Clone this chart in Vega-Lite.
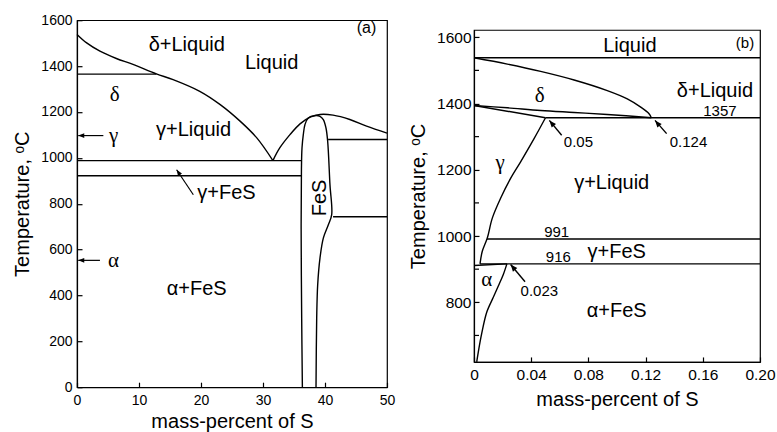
{
  "$schema": "https://vega.github.io/schema/vega-lite/v6.json",
  "padding": {"left": 12, "top": 12, "right": 0, "bottom": 0},
  "background": "white",
  "spacing": 11,
  "center": true,
  "config": {
    "font": "Liberation Sans",
    "view": {"stroke": "black", "strokeWidth": 1.2},
    "axis": {
      "grid": false,
      "domainColor": "black",
      "domainWidth": 1.2,
      "tickColor": "black",
      "tickWidth": 1.2,
      "tickSize": -5,
      "labelColor": "black",
      "titleColor": "black",
      "titleFontWeight": "normal",
      "titleFontSize": 20,
      "labelFlush": false,
      "labelOverlap": false
    }
  },
  "datasets": {
    "a_lines": [
      {"c": "liq1", "i": 0, "x": 0, "y": 1538},
      {"c": "liq1", "i": 1, "x": 1.56, "y": 1501},
      {"c": "liq1", "i": 2, "x": 3.7, "y": 1465},
      {"c": "liq1", "i": 3, "x": 6.35, "y": 1433},
      {"c": "liq1", "i": 4, "x": 9.03, "y": 1407},
      {"c": "liq1", "i": 5, "x": 12.8, "y": 1366},
      {"c": "liq1", "i": 6, "x": 15.5, "y": 1341},
      {"c": "liq1", "i": 7, "x": 19.8, "y": 1290},
      {"c": "liq1", "i": 8, "x": 23.1, "y": 1232},
      {"c": "liq1", "i": 9, "x": 26.3, "y": 1160},
      {"c": "liq1", "i": 10, "x": 29.0, "y": 1087},
      {"c": "liq1", "i": 11, "x": 31.6, "y": 988},
      {"c": "liq2", "i": 0, "x": 31.6, "y": 988},
      {"c": "liq2", "i": 1, "x": 32.7, "y": 1043},
      {"c": "liq2", "i": 2, "x": 34.35, "y": 1101},
      {"c": "liq2", "i": 3, "x": 35.97, "y": 1148},
      {"c": "liq2", "i": 4, "x": 37.6, "y": 1177},
      {"c": "liq2", "i": 5, "x": 39.2, "y": 1189},
      {"c": "liq2", "i": 6, "x": 41.3, "y": 1186},
      {"c": "liq2", "i": 7, "x": 44.0, "y": 1167},
      {"c": "liq2", "i": 8, "x": 46.7, "y": 1138},
      {"c": "liq2", "i": 9, "x": 50, "y": 1108},
      {"c": "h1365", "i": 0, "x": 0, "y": 1365},
      {"c": "h1365", "i": 1, "x": 12.8, "y": 1365},
      {"c": "h988", "i": 0, "x": 0, "y": 988},
      {"c": "h988", "i": 1, "x": 36.2, "y": 988},
      {"c": "h922", "i": 0, "x": 0, "y": 922},
      {"c": "h922", "i": 1, "x": 36.2, "y": 922},
      {"c": "h1080", "i": 0, "x": 40.5, "y": 1080},
      {"c": "h1080", "i": 1, "x": 50, "y": 1080},
      {"c": "h743", "i": 0, "x": 41.3, "y": 743},
      {"c": "h743", "i": 1, "x": 50, "y": 743},
      {"c": "fes", "i": 0, "x": 36.35, "y": 0},
      {"c": "fes", "i": 1, "x": 36.24, "y": 300},
      {"c": "fes", "i": 2, "x": 36.15, "y": 700},
      {"c": "fes", "i": 3, "x": 36.2, "y": 950},
      {"c": "fes", "i": 4, "x": 36.29, "y": 1043},
      {"c": "fes", "i": 5, "x": 36.5, "y": 1101},
      {"c": "fes", "i": 6, "x": 36.77, "y": 1145},
      {"c": "fes", "i": 7, "x": 37.3, "y": 1174},
      {"c": "fes", "i": 8, "x": 38.39, "y": 1184},
      {"c": "fes", "i": 9, "x": 39.19, "y": 1181},
      {"c": "fes", "i": 10, "x": 39.73, "y": 1167},
      {"c": "fes", "i": 11, "x": 40.16, "y": 1130},
      {"c": "fes", "i": 12, "x": 40.43, "y": 1072},
      {"c": "fes", "i": 13, "x": 40.8, "y": 883},
      {"c": "fes", "i": 14, "x": 41.08, "y": 752},
      {"c": "fes", "i": 15, "x": 40.54, "y": 708},
      {"c": "fes", "i": 16, "x": 39.73, "y": 650},
      {"c": "fes", "i": 17, "x": 39.19, "y": 563},
      {"c": "fes", "i": 18, "x": 38.82, "y": 447},
      {"c": "fes", "i": 19, "x": 38.66, "y": 301},
      {"c": "fes", "i": 20, "x": 38.55, "y": 0}
    ],
    "a_text": [
      {"t": "δ+Liquid", "x": 17.7, "y": 1490},
      {"t": "Liquid", "x": 31.4, "y": 1414},
      {"t": "γ+Liquid", "x": 18.8, "y": 1123},
      {"t": "γ+FeS", "x": 24.1, "y": 846},
      {"t": "α+FeS", "x": 19.3, "y": 429}
    ],
    "a_greek": [
      {"t": "δ", "x": 6.1, "y": 1276},
      {"t": "γ", "x": 5.9, "y": 1094},
      {"t": "α", "x": 5.9, "y": 550}
    ],
    "a_tag": [{"t": "(a)", "x": 46.7, "y": 1567}],
    "a_fes": [{"t": "FeS", "x": 39.2, "y": 825}],
    "a_arrows_h": [
      {"x": 0.2, "y": 1097, "x2": 4.25, "y2": 1097},
      {"x": 0.2, "y": 553, "x2": 3.7, "y2": 553}
    ],
    "a_arrows_d": [
      {"x": 16.07, "y": 948, "x2": 18.76, "y2": 839}
    ],
    "b_lines": [
      {"c": "liqtop", "i": 0, "x": 0, "y": 1538},
      {"c": "liqtop", "i": 1, "x": 0.2, "y": 1538},
      {"c": "liquidus", "i": 0, "x": 0, "y": 1538},
      {"c": "liquidus", "i": 1, "x": 0.0233, "y": 1519},
      {"c": "liquidus", "i": 2, "x": 0.0466, "y": 1497},
      {"c": "liquidus", "i": 3, "x": 0.07, "y": 1471},
      {"c": "liquidus", "i": 4, "x": 0.0932, "y": 1439},
      {"c": "liquidus", "i": 5, "x": 0.1072, "y": 1414},
      {"c": "liquidus", "i": 6, "x": 0.1166, "y": 1389},
      {"c": "liquidus", "i": 7, "x": 0.1224, "y": 1369},
      {"c": "liquidus", "i": 8, "x": 0.124, "y": 1357},
      {"c": "dsol", "i": 0, "x": 0, "y": 1394},
      {"c": "dsol", "i": 1, "x": 0.0233, "y": 1387},
      {"c": "dsol", "i": 2, "x": 0.0466, "y": 1379},
      {"c": "dsol", "i": 3, "x": 0.07, "y": 1373},
      {"c": "dsol", "i": 4, "x": 0.0932, "y": 1367},
      {"c": "dsol", "i": 5, "x": 0.124, "y": 1357},
      {"c": "dlow", "i": 0, "x": 0, "y": 1394},
      {"c": "dlow", "i": 1, "x": 0.05, "y": 1357},
      {"c": "h1357", "i": 0, "x": 0.05, "y": 1357},
      {"c": "h1357", "i": 1, "x": 0.2, "y": 1357},
      {"c": "gamma", "i": 0, "x": 0.05, "y": 1357},
      {"c": "gamma", "i": 1, "x": 0.042, "y": 1294},
      {"c": "gamma", "i": 2, "x": 0.0326, "y": 1224},
      {"c": "gamma", "i": 3, "x": 0.0256, "y": 1174},
      {"c": "gamma", "i": 4, "x": 0.0186, "y": 1114},
      {"c": "gamma", "i": 5, "x": 0.0128, "y": 1054},
      {"c": "gamma", "i": 6, "x": 0.0093, "y": 994},
      {"c": "gamma", "i": 7, "x": 0.0058, "y": 954},
      {"c": "gamma", "i": 8, "x": 0.0042, "y": 916},
      {"c": "h991", "i": 0, "x": 0.0091, "y": 991},
      {"c": "h991", "i": 1, "x": 0.2, "y": 991},
      {"c": "h916", "i": 0, "x": 0.0042, "y": 916},
      {"c": "h916", "i": 1, "x": 0.2, "y": 916},
      {"c": "atop", "i": 0, "x": 0, "y": 911},
      {"c": "atop", "i": 1, "x": 0.023, "y": 916},
      {"c": "asolvus", "i": 0, "x": 0.023, "y": 916},
      {"c": "asolvus", "i": 1, "x": 0.0205, "y": 884},
      {"c": "asolvus", "i": 2, "x": 0.017, "y": 849},
      {"c": "asolvus", "i": 3, "x": 0.0135, "y": 815},
      {"c": "asolvus", "i": 4, "x": 0.0089, "y": 770},
      {"c": "asolvus", "i": 5, "x": 0.0054, "y": 706},
      {"c": "asolvus", "i": 6, "x": 0.003, "y": 650},
      {"c": "asolvus", "i": 7, "x": 0.0019, "y": 620}
    ],
    "b_minor": [
      {"v": 700}, {"v": 900}, {"v": 1100}, {"v": 1300}, {"v": 1500}
    ],
    "b_text": [
      {"t": "Liquid", "x": 0.109, "y": 1574},
      {"t": "δ+Liquid", "x": 0.1685, "y": 1439},
      {"t": "γ+Liquid", "x": 0.0963, "y": 1159},
      {"t": "γ+FeS", "x": 0.0998, "y": 952},
      {"t": "α+FeS", "x": 0.0998, "y": 774}
    ],
    "b_greek": [
      {"t": "δ", "x": 0.046, "y": 1424},
      {"t": "γ", "x": 0.0182, "y": 1219},
      {"t": "α", "x": 0.0089, "y": 866}
    ],
    "b_small": [
      {"t": "1357", "x": 0.172, "y": 1376},
      {"t": "0.05", "x": 0.073, "y": 1284},
      {"t": "0.124", "x": 0.15, "y": 1284},
      {"t": "991", "x": 0.0578, "y": 1012},
      {"t": "916", "x": 0.059, "y": 937},
      {"t": "0.023", "x": 0.0457, "y": 834},
      {"t": "(b)", "x": 0.1895, "y": 1584}
    ],
    "b_arrows": [
      {"x": 0.0527, "y": 1349, "x2": 0.0613, "y2": 1304},
      {"x": 0.1266, "y": 1349, "x2": 0.1347, "y2": 1309},
      {"x": 0.0256, "y": 914, "x2": 0.0357, "y2": 862}
    ]
  },
  "hconcat": [
    {
      "width": 310,
      "height": 367,
      "layer": [
        {
          "data": {"name": "a_lines"},
          "mark": {"type": "line", "color": "black", "strokeWidth": 1.4, "interpolate": "catmull-rom"},
          "encoding": {
            "x": {"field": "x", "type": "quantitative",
                  "scale": {"domain": [0, 50], "nice": false, "zero": false},
                  "axis": {"values": [0, 10, 20, 30, 40, 50], "title": "mass-percent of S",
                           "labelFontSize": 14, "labelPadding": 11, "titlePadding": 4}},
            "y": {"field": "y", "type": "quantitative",
                  "scale": {"domain": [0, 1600], "nice": false, "zero": false},
                  "axis": {"values": [0, 200, 400, 600, 800, 1000, 1200, 1400, 1600], "format": "d",
                           "title": "Temperature, ᵒC", "labelFontSize": 14, "labelPadding": 10, "titlePadding": 8}},
            "detail": {"field": "c"},
            "order": {"field": "i", "type": "quantitative"}
          }
        },
        {
          "data": {"name": "a_arrows_h"},
          "mark": {"type": "rule", "color": "black", "strokeWidth": 1.2},
          "encoding": {
            "x": {"field": "x", "type": "quantitative"},
            "y": {"field": "y", "type": "quantitative"},
            "x2": {"field": "x2"},
            "y2": {"field": "y2"}
          }
        },
        {
          "data": {"name": "a_arrows_h"},
          "mark": {"type": "point", "shape": "M0,0L-0.4,1L0.4,1Z", "filled": true, "color": "black", "opacity": 1, "size": 144, "angle": 270},
          "encoding": {
            "x": {"field": "x", "type": "quantitative"},
            "y": {"field": "y", "type": "quantitative"}
          }
        },
        {
          "data": {"name": "a_arrows_d"},
          "mark": {"type": "rule", "color": "black", "strokeWidth": 1.2},
          "encoding": {
            "x": {"field": "x", "type": "quantitative"},
            "y": {"field": "y", "type": "quantitative"},
            "x2": {"field": "x2"},
            "y2": {"field": "y2"}
          }
        },
        {
          "data": {"name": "a_arrows_d"},
          "mark": {"type": "point", "shape": "M0,0L-0.4,1L0.4,1Z", "filled": true, "color": "black", "opacity": 1, "size": 144, "angle": 326},
          "encoding": {
            "x": {"field": "x", "type": "quantitative"},
            "y": {"field": "y", "type": "quantitative"}
          }
        },
        {
          "data": {"name": "a_text"},
          "mark": {"type": "text", "fontSize": 20, "color": "black", "align": "center", "baseline": "middle"},
          "encoding": {
            "x": {"field": "x", "type": "quantitative"},
            "y": {"field": "y", "type": "quantitative"},
            "text": {"field": "t"}
          }
        },
        {
          "data": {"name": "a_greek"},
          "mark": {"type": "text", "fontSize": 21, "font": "Liberation Serif", "color": "black", "align": "center", "baseline": "middle"},
          "encoding": {
            "x": {"field": "x", "type": "quantitative"},
            "y": {"field": "y", "type": "quantitative"},
            "text": {"field": "t"}
          }
        },
        {
          "data": {"name": "a_tag"},
          "mark": {"type": "text", "fontSize": 16, "color": "black", "align": "center", "baseline": "middle"},
          "encoding": {
            "x": {"field": "x", "type": "quantitative"},
            "y": {"field": "y", "type": "quantitative"},
            "text": {"field": "t"}
          }
        },
        {
          "data": {"name": "a_fes"},
          "mark": {"type": "text", "fontSize": 20, "angle": 270, "color": "black", "align": "center", "baseline": "middle"},
          "encoding": {
            "x": {"field": "x", "type": "quantitative"},
            "y": {"field": "y", "type": "quantitative"},
            "text": {"field": "t"}
          }
        }
      ]
    },
    {
      "width": 286,
      "height": 332,
      "layer": [
        {
          "data": {"name": "b_lines"},
          "mark": {"type": "line", "color": "black", "strokeWidth": 1.4, "interpolate": "catmull-rom"},
          "encoding": {
            "x": {"field": "x", "type": "quantitative",
                  "scale": {"domain": [0, 0.2], "nice": false, "zero": false},
                  "axis": {"values": [0, 0.04, 0.08, 0.12, 0.16, 0.2], "title": ["mass-percent of S", " "],
                           "titleLineHeight": 12, "titleBaseline": "top",
                           "labelExpr": "datum.value == 0 ? '0' : format(datum.value, '.2f')",
                           "labelFontSize": 15.5, "labelPadding": 11, "titlePadding": 6}},
            "y": {"field": "y", "type": "quantitative",
                  "scale": {"domain": [620, 1622], "nice": false, "zero": false},
                  "axis": {"values": [800, 1000, 1200, 1400, 1600], "format": "d",
                           "title": "Temperature, ᵒC", "labelFontSize": 15.5, "labelPadding": 8, "titlePadding": 8}},
            "detail": {"field": "c"},
            "order": {"field": "i", "type": "quantitative"}
          }
        },
        {
          "data": {"name": "b_minor"},
          "mark": {"type": "rule", "color": "black", "strokeWidth": 1.2},
          "encoding": {
            "y": {"field": "v", "type": "quantitative"},
            "x": {"datum": 0, "type": "quantitative"},
            "x2": {"datum": 0.0035}
          }
        },
        {
          "data": {"name": "b_arrows"},
          "mark": {"type": "rule", "color": "black", "strokeWidth": 1.4},
          "encoding": {
            "x": {"field": "x", "type": "quantitative"},
            "y": {"field": "y", "type": "quantitative"},
            "x2": {"field": "x2"},
            "y2": {"field": "y2"}
          }
        },
        {
          "data": {"name": "b_arrows"},
          "mark": {"type": "point", "shape": "M0,0L-0.4,1L0.4,1Z", "filled": true, "color": "black", "opacity": 1, "size": 196, "angle": 320},
          "encoding": {
            "x": {"field": "x", "type": "quantitative"},
            "y": {"field": "y", "type": "quantitative"}
          }
        },
        {
          "data": {"name": "b_text"},
          "mark": {"type": "text", "fontSize": 20, "color": "black", "align": "center", "baseline": "middle"},
          "encoding": {
            "x": {"field": "x", "type": "quantitative"},
            "y": {"field": "y", "type": "quantitative"},
            "text": {"field": "t"}
          }
        },
        {
          "data": {"name": "b_greek"},
          "mark": {"type": "text", "fontSize": 21, "font": "Liberation Serif", "color": "black", "align": "center", "baseline": "middle"},
          "encoding": {
            "x": {"field": "x", "type": "quantitative"},
            "y": {"field": "y", "type": "quantitative"},
            "text": {"field": "t"}
          }
        },
        {
          "data": {"name": "b_small"},
          "mark": {"type": "text", "fontSize": 15, "color": "black", "align": "center", "baseline": "middle"},
          "encoding": {
            "x": {"field": "x", "type": "quantitative"},
            "y": {"field": "y", "type": "quantitative"},
            "text": {"field": "t"}
          }
        }
      ]
    }
  ]
}
